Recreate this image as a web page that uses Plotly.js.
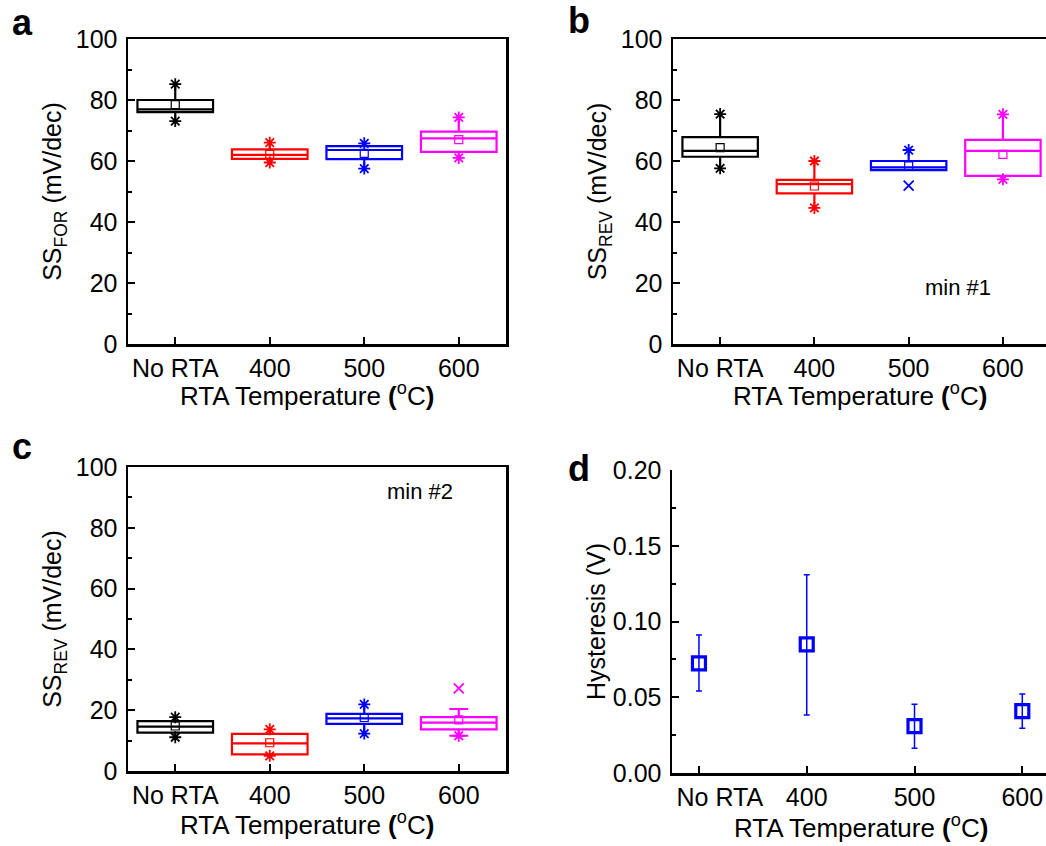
<!DOCTYPE html>
<html>
<head>
<meta charset="utf-8">
<script src="https://cdn.plot.ly/plotly-3.0.1.min.js"></script>
<style>html,body{margin:0;padding:0;background:#fff;}#chart{width:1046px;height:846px;}</style>
</head>
<body>
<div id="chart"></div>
<script>
// ---------- data ----------
const categories = ['No RTA', '400', '500', '600'];

// Panel a: SS_FOR
const aQ1     = [76.0, 60.7, 60.6, 63.0];
const aMedian = [76.9, 62.0, 63.6, 67.4];
const aQ3     = [80.0, 63.8, 64.9, 69.6];
const aMean   = [78.5, 62.2, 62.5, 67.0];
const aLow    = [73.1, 59.5, 57.5, 61.0];
const aHigh   = [85.2, 66.0, 65.8, 74.3];
const aMinMark = [73.1, 59.5, 57.5, 61.0];
const aMaxMark = [85.2, 66.0, 65.8, 74.3];

// Panel b: SS_REV min #1
const bQ1     = [61.4, 49.4, 57.0, 55.1];
const bMedian = [63.3, 52.4, 57.9, 63.3];
const bQ3     = [67.8, 53.8, 60.0, 66.9];
const bMean   = [64.4, 51.8, 58.4, 62.2];
const bLow    = [57.6, 44.6, 57.0, 54.0];
const bHigh   = [75.4, 60.0, 63.6, 75.3];
const bMinMark = [57.6, 44.6, 51.9, 54.0];
const bMaxMark = [75.4, 60.0, 63.6, 75.3];

// Panel c: SS_REV min #2
const cQ1     = [12.6, 5.5, 15.5, 13.7];
const cMedian = [14.6, 9.1, 17.3, 15.9];
const cQ3     = [16.4, 12.2, 18.8, 17.7];
const cMean   = [14.8, 9.3, 17.6, 16.8];
const cLow    = [11.1, 5.0, 12.3, 11.6];
const cHigh   = [17.7, 13.7, 21.9, 20.4];
const cMinMark = [11.1, 5.0, 12.3, 11.6];
const cMaxMark = [17.7, 13.7, 21.9, 27.2];

// Panel d: Hysteresis
const dMean  = [0.0724, 0.0849, 0.0310, 0.0409];
const dUpper = [0.0911, 0.1309, 0.0453, 0.0521];
const dLower = [0.0541, 0.0383, 0.0163, 0.0295];

// ---------- styles ----------
const colors = ['#000000', '#ff0000', '#0000ff', '#ff00ff'];
const FONT = 'Liberation Sans, Arial, sans-serif';
const W = 1046, H = 846;
const px = x => x / W, py = y => 1 - y / H;
const xTitle = 'RTA Temperature <b>(</b><sup>o</sup>C<b>)</b>';

const symbolsMax = {a: ['asterisk-open','asterisk-open','asterisk-open','asterisk-open'],
                    b: ['asterisk-open','asterisk-open','asterisk-open','asterisk-open'],
                    c: ['asterisk-open','asterisk-open','asterisk-open','x-thin-open']};
const symbolsMin = {a: ['asterisk-open','asterisk-open','asterisk-open','asterisk-open'],
                    b: ['asterisk-open','asterisk-open','x-thin-open','asterisk-open'],
                    c: ['asterisk-open','asterisk-open','asterisk-open','asterisk-open']};
const capWidths = {a: [0,0,0,0], b: [0,0,0,0], c: [0,0,0,0.25]};

const traces = [];
function boxPanel(key, xa, ya, q1, med, q3, lo, hi, mean, minM, maxM) {
  for (let i = 0; i < categories.length; i++) {
    traces.push({
      type: 'box', xaxis: xa, yaxis: ya,
      x: [categories[i]], q1: [q1[i]], median: [med[i]], q3: [q3[i]],
      lowerfence: [lo[i]], upperfence: [hi[i]],
      width: 0.8, whiskerwidth: capWidths[key][i],
      line: {color: colors[i], width: 2.2},
      fillcolor: 'rgba(0,0,0,0)', boxpoints: false, hoverinfo: 'skip', showlegend: false
    });
  }
  traces.push({type: 'scatter', mode: 'markers', xaxis: xa, yaxis: ya, x: categories, y: mean,
    marker: {symbol: 'square-open', size: 8, color: colors, line: {color: colors, width: 1.2}},
    showlegend: false, hoverinfo: 'skip'});
  traces.push({type: 'scatter', mode: 'markers', xaxis: xa, yaxis: ya, x: categories, y: maxM,
    marker: {symbol: symbolsMax[key], size: 10, color: colors, line: {color: colors, width: 1.8}},
    showlegend: false, hoverinfo: 'skip'});
  traces.push({type: 'scatter', mode: 'markers', xaxis: xa, yaxis: ya, x: categories, y: minM,
    marker: {symbol: symbolsMin[key], size: 10, color: colors, line: {color: colors, width: 1.8}},
    showlegend: false, hoverinfo: 'skip'});
}
boxPanel('a', 'x', 'y', aQ1, aMedian, aQ3, aLow, aHigh, aMean, aMinMark, aMaxMark);
boxPanel('b', 'x2', 'y2', bQ1, bMedian, bQ3, bLow, bHigh, bMean, bMinMark, bMaxMark);
boxPanel('c', 'x3', 'y3', cQ1, cMedian, cQ3, cLow, cHigh, cMean, cMinMark, cMaxMark);

traces.push({type: 'scatter', mode: 'markers', xaxis: 'x4', yaxis: 'y4', x: categories, y: dMean,
  error_y: {type: 'data', symmetric: false,
            array: dUpper.map((u, i) => u - dMean[i]),
            arrayminus: dLower.map((l, i) => dMean[i] - l),
            color: '#0000ff', thickness: 1.5, width: 3},
  marker: {symbol: 'square-open', size: 13, color: '#0000ff', line: {color: '#0000ff', width: 3.2}},
  showlegend: false, hoverinfo: 'skip'});

function xAxis(domain, anchor, range, mirror) {
  return {domain: domain, anchor: anchor, type: 'category', range: range,
    showline: true, linewidth: 2.5, linecolor: '#000', mirror: mirror,
    ticks: 'inside', ticklen: 7, tickwidth: 2, tickcolor: '#000',
    tickfont: {family: FONT, size: 25, color: '#000'},
    showgrid: false, zeroline: false, automargin: false};
}
function yAxis(domain, anchor, range, dtick, minorDtick, title, mirror, fmt, standoff) {
  const o = {domain: domain, anchor: anchor, range: range, dtick: dtick, tick0: 0,
    showline: true, linewidth: 2.5, linecolor: '#000', mirror: mirror,
    ticks: 'inside', ticklen: 7, tickwidth: 2, tickcolor: '#000',
    minor: {ticks: 'inside', ticklen: 4, tickwidth: 2, tickcolor: '#000', dtick: minorDtick, showgrid: false},
    tickfont: {family: FONT, size: 25, color: '#000'}, ticklabelstandoff: 3,
    showgrid: false, zeroline: false, automargin: false,
    title: {text: title, font: {family: FONT, size: 25, color: '#000'}, standoff: standoff}};
  if (fmt) o.tickformat = fmt;
  return o;
}

const topY = [py(344), py(39)];
const botY = [py(771), py(467)];
const xaxis4 = xAxis([px(672), 1], 'y4', [-0.25, 3.22], false);
xaxis4.tickmode = 'array';
xaxis4.tickvals = categories;
xaxis4.ticktext = categories.map((c, i) => i === 0 ? '\u00a0'.repeat(6) + c : c);

const ann = (text, x, y, size) => ({text: text, x: px(x), y: py(y), xref: 'paper', yref: 'paper',
  xanchor: 'center', yanchor: 'middle', showarrow: false, font: {family: FONT, size: size, color: '#000'}});

const layout = {
  width: W, height: H, margin: {l: 0, r: 0, t: 0, b: 0},
  paper_bgcolor: '#fff', plot_bgcolor: '#fff', showlegend: false, boxmode: 'overlay',
  font: {family: FONT, color: '#000'},
  xaxis:  xAxis([px(128), px(506)], 'y', [-0.5, 3.5], true),
  yaxis:  yAxis(topY, 'x', [0, 100], 20, 10, 'SS<sub>FOR</sub> (mV/dec)', true, null, 7),
  xaxis2: xAxis([px(673), 1], 'y2', [-0.5, 3.457], true),
  yaxis2: yAxis(topY, 'x2', [0, 100], 20, 10, 'SS<sub>REV</sub> (mV/dec)', false, null, 7),
  xaxis3: xAxis([px(128), px(506)], 'y3', [-0.5, 3.5], true),
  yaxis3: yAxis(botY, 'x3', [0, 100], 20, 10, 'SS<sub>REV</sub> (mV/dec)', true, null, 7),
  xaxis4: xaxis4,
  yaxis4: yAxis([py(773), py(470)], 'x4', [0, 0.2], 0.05, 0.025, 'Hysteresis (V)', false, '.2f', 0),
  annotations: [
    ann('<b>a</b>', 22, 22, 36),
    ann('<b>b</b>', 579, 20, 36),
    ann('<b>c</b>', 22, 446, 36),
    ann('<b>d</b>', 579, 468, 36),
    ann('min #1', 958, 287, 22),
    ann('min #2', 420, 492, 22),
    ann(xTitle, 307, 395, 26),
    ann(xTitle, 860, 395, 26),
    ann(xTitle, 307, 823, 26),
    ann(xTitle, 861, 826, 26)
  ]
};

Plotly.newPlot('chart', traces, layout, {displayModeBar: false, staticPlot: true});
</script>
</body>
</html>
